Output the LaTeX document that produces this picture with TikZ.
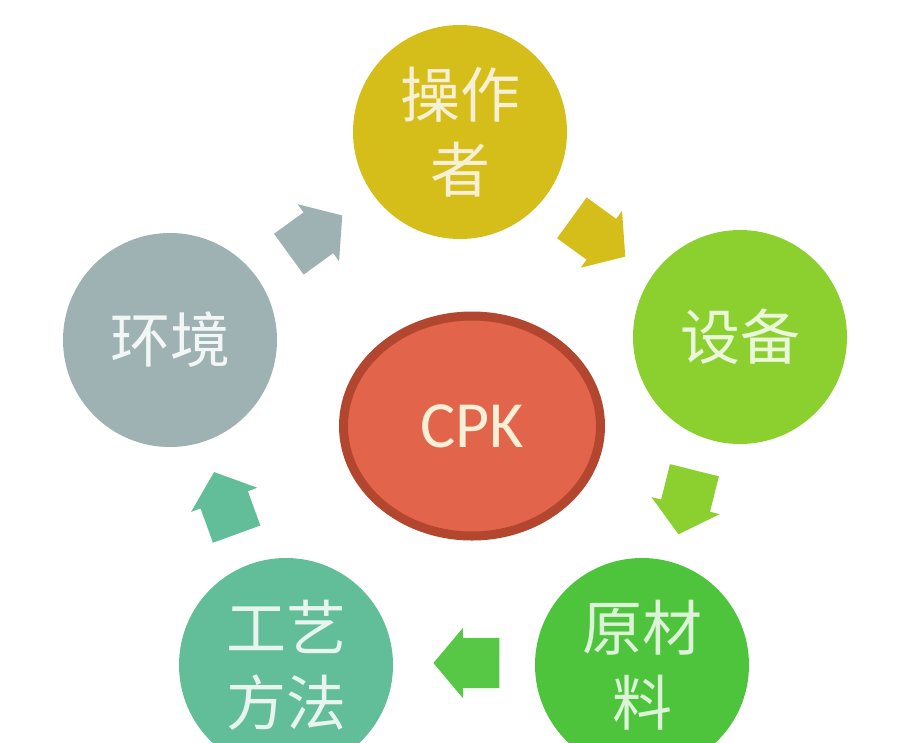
\documentclass[tikz,border=0pt]{standalone}
\usepackage{fontspec}
\newfontfamily\cjk{Noto Sans CJK SC}
\newfontfamily\carl{Carlito}
\usetikzlibrary{shapes.arrows,shapes.geometric}
\definecolor{cOp}{RGB}{214,190,26}
\definecolor{cEq}{RGB}{140,208,48}
\definecolor{cMat}{RGB}{78,196,60}
\definecolor{cMeth}{RGB}{98,190,152}
\definecolor{cEnv}{RGB}{158,178,180}
\definecolor{cCpk}{RGB}{226,100,74}
\definecolor{cCpkB}{RGB}{178,70,46}
\definecolor{cTxt}{RGB}{248,240,214}
\tikzset{
  ball/.style={circle, minimum size=214pt, inner sep=0pt, draw=none,
    font=\cjk\fontsize{60}{75}\selectfont, align=center},
  blockarrow/.style={single arrow, draw=none, minimum height=66pt,
    minimum width=70pt, single arrow head extend=10pt,
    single arrow tip angle=100, inner sep=0pt}
}
\newcommand\shaft{\rule{0pt}{50pt}}
\begin{document}
\begin{tikzpicture}[x=1pt,y=-1pt]
\useasboundingbox (0,0) rectangle (912,742);
\clip (0,0) rectangle (912,742);
\fill[white] (0,0) rectangle (912,742);

\node[ball, fill=cOp, text=cTxt] (op) at (460,132) {操作\\者};
\node[ball, fill=cEq, text=white!82!cEq] (eq) at (740,337) {设备};
\node[ball, fill=cMat, text=white!80!cMat] (mat) at (642,665) {原材\\料};
\node[ball, fill=cMeth, text=white!85!cMeth] (meth) at (286,665) {工艺\\方法};
\node[ball, fill=cEnv, text=white!88!cEnv] (env) at (170,340) {环境};

\node[ellipse, minimum width=257pt, minimum height=220pt, fill=cCpk,
      draw=cCpkB, line width=9pt, inner sep=0pt,
      font=\carl\fontsize{66}{70}\selectfont, text=cTxt] (cpk) at (472,426) {CPK};

\node[blockarrow, fill=cEnv, rotate=36] (a1) at (307,241) {\shaft};
\node[blockarrow, fill=cOp, rotate=-36] (a2) at (590,231) {\shaft};
\node[blockarrow, fill=cEq, rotate=-104] (a3) at (689,492) {\shaft};
\node[blockarrow, fill=cMat!95!white, rotate=180] (a4) at (477,663) {\shaft};
\node[blockarrow, fill=cMeth, rotate=110] (a5) at (229,513) {\shaft};
\end{tikzpicture}
\end{document}
